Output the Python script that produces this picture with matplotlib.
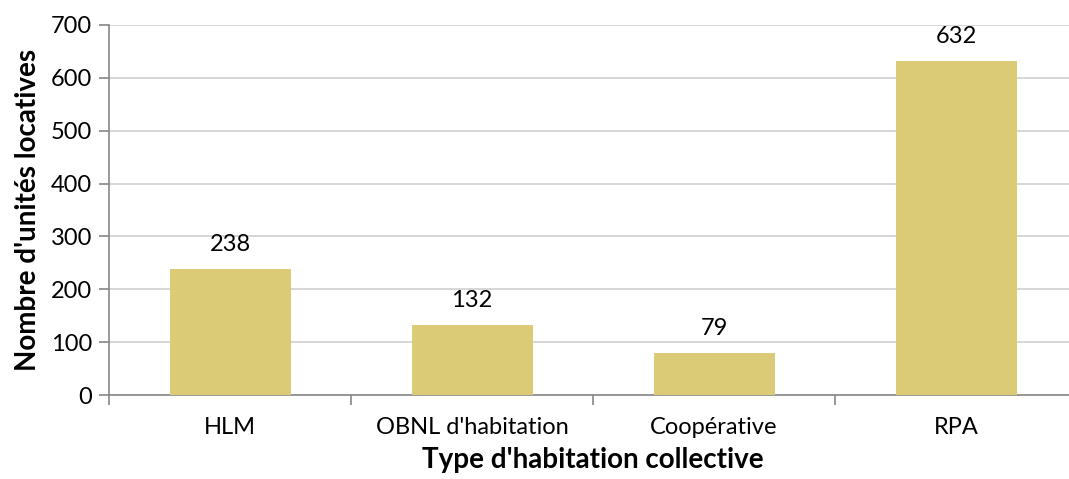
import matplotlib
matplotlib.use("Agg")
import matplotlib.pyplot as plt
import numpy as np

categories = ["HLM", "OBNL d'habitation", "Coopérative", "RPA"]
values = [238, 132, 79, 632]
yticks = [0, 100, 200, 300, 400, 500, 600, 700]

plt.rcParams['font.family'] = ['Lato', 'DejaVu Sans']

fig = plt.figure(figsize=(10.69, 4.79), dpi=100)
W, H = 1069, 479
left, right, top, bottom = 109, 1077, 25, 395
ax = fig.add_axes([left / W, 1 - bottom / H, (right - left) / W, (bottom - top) / H])

x = np.arange(len(categories))
bars = ax.bar(x, values, width=0.5, color="#DBCB77", zorder=3)
for xi, v in zip(x, values):
    ax.annotate(str(v), (xi, v), xytext=(0, 10), textcoords="offset points",
                ha="center", va="bottom", fontsize=17, color="black")

ax.set_xlim(-0.5, len(categories) - 0.5)
ax.set_ylim(0, 700)
ax.set_yticks(yticks)
ax.set_yticklabels([str(t) for t in yticks], fontsize=17)
ax.set_xticks(x)
ax.set_xticklabels(categories, fontsize=17)
ax.tick_params(axis='x', length=0, pad=16)
ax.set_xticks(np.arange(len(categories) + 1) - 0.5, minor=True)
ax.tick_params(axis='x', which='minor', length=7, color="#888888", width=1.2, direction='out')
ax.tick_params(axis='y', length=7, color="#888888", width=1.2, direction='out', pad=5)

ax.grid(axis='y', color="#CFCFCF", linewidth=1.2, zorder=0)
ax.set_axisbelow(True)
for s in ['top', 'right']:
    ax.spines[s].set_visible(False)
for s in ['left', 'bottom']:
    ax.spines[s].set_color("#888888")
    ax.spines[s].set_linewidth(1.2)

ax.set_ylabel("Nombre d'unités locatives", fontsize=20, fontweight='bold', labelpad=7)
ax.set_xlabel("Type d'habitation collective", fontsize=20, fontweight='bold', labelpad=6)

fig.savefig("out.png", dpi=100)
